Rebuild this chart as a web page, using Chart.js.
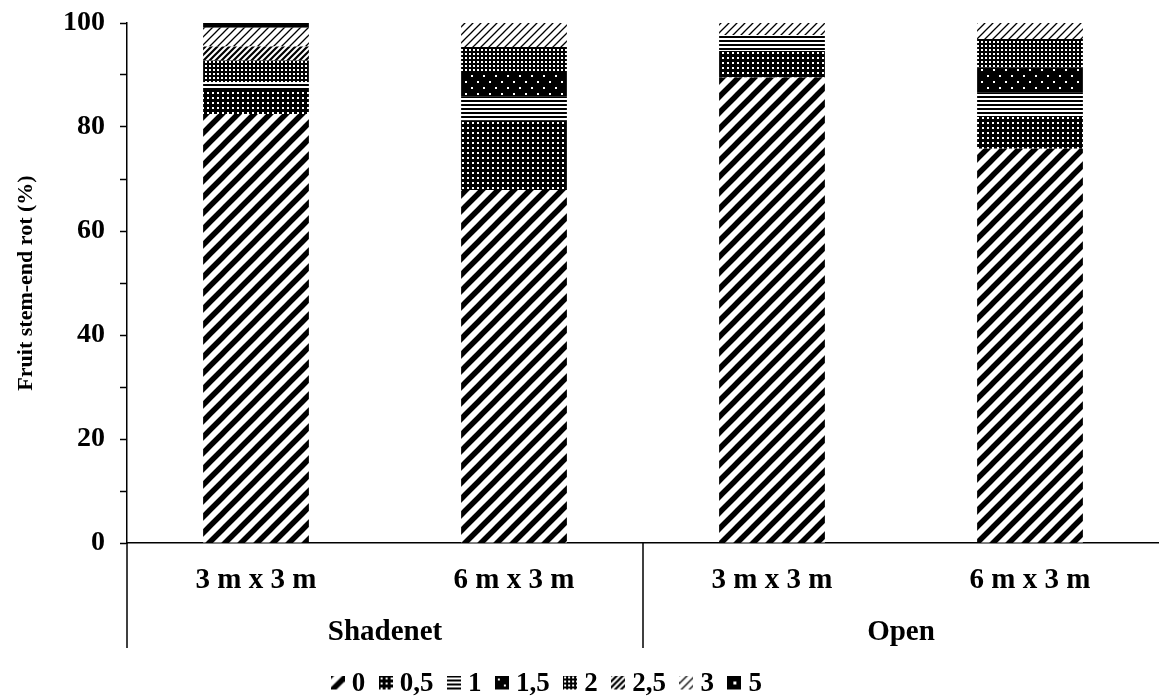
<!DOCTYPE html>
<html>
<head>
<meta charset="utf-8">
<script src="https://cdn.jsdelivr.net/npm/chart.js@4.4.1/dist/chart.umd.min.js"></script>
<style>
  html, body { margin: 0; padding: 0; background: #fff; }
</style>
</head>
<body>
<canvas id="myChart" width="1159" height="699"></canvas>
<script>
// categories and groups on the x axis
const categories = ["3 m x 3 m", "6 m x 3 m", "3 m x 3 m", "6 m x 3 m"];
const groups = ["Shadenet", "Open"];
const seriesLabels = ["0", "0,5", "1", "1,5", "2", "2,5", "3", "5"];

// share of fruit (%) in each rot class
const s0  = [82.5, 67.9, 89.5, 75.8];
const s05 = [4.6, 13.4, 5.1, 6.3];
const s1  = [1.5, 4.5, 3.1, 4.6];
const s15 = [0, 4.8, 0, 4.8];
const s2  = [4.2, 4.8, 0, 5.4];
const s25 = [2.7, 0, 0, 0];
const s3  = [3.6, 4.6, 2.3, 3.1];
const s5  = [0.9, 0, 0, 0];
const seriesValues = [s0, s05, s1, s15, s2, s25, s3, s5];

const yTicks = [0, 20, 40, 60, 80, 100];

const canvas = document.getElementById("myChart");
const ctx = canvas.getContext("2d");
const serif = "'Liberation Serif', 'Times New Roman', serif";
const labelSize = 29;

function makeTile(w, draw, h) {
  const c = document.createElement("canvas");
  c.width = w;
  c.height = h || w;
  draw(c.getContext("2d"), w);
  return c;
}

// "/" stripes on white
function diag(size, width) {
  return makeTile(size, (g, n) => {
    g.fillStyle = "#fff";
    g.fillRect(0, 0, n, n);
    g.strokeStyle = "#000";
    g.lineWidth = width;
    g.beginPath();
    g.moveTo(-n, n); g.lineTo(n, -n);
    g.moveTo(0, n); g.lineTo(n, 0);
    g.moveTo(0, 2 * n); g.lineTo(2 * n, 0);
    g.stroke();
  });
}

// white dots on black
function dots(size, dot, spots) {
  return makeTile(size, (g, n) => {
    g.fillStyle = "#000";
    g.fillRect(0, 0, n, n);
    g.fillStyle = "#fff";
    spots.forEach(p => g.fillRect(p[0], p[1], dot, dot));
  });
}

function hlines(size, thick) {
  return makeTile(size, (g, n) => {
    g.fillStyle = "#fff";
    g.fillRect(0, 0, n, n);
    g.fillStyle = "#000";
    g.fillRect(0, 0, n, thick);
  });
}

const tiles = [
  diag(16, 5.5),                 // 0
  dots(5, 2, [[2, 2]]),          // 0,5
  hlines(4, 2),                  // 1
  dots(12, 2, [[3, 3], [9, 9]]), // 1,5
  dots(4, 2, [[1, 1]]),          // 2
  diag(6, 2.2),                  // 2,5
  diag(8, 1.3),                  // 3
  dots(8, 0, [])                 // 5 (solid)
];
const patterns = tiles.map(t => ctx.createPattern(t, "repeat"));

// small legend swatches (drawn in the top part so they line up with the digits)
const icons = tiles.map((t, i) => makeTile(14, (g, n) => {
  g.fillStyle = g.createPattern(t, "repeat");
  g.fillRect(0, 0, n, n);
  if (i === tiles.length - 1) {
    g.fillStyle = "#fff";
    g.fillRect(6, 6, 3, 3);
  }
}, 18));

const datasets = seriesLabels.map((lab, i) => ({
  label: lab,
  data: seriesValues[i],
  backgroundColor: patterns[i],
  borderWidth: 0,
  categoryPercentage: 1.0,
  barPercentage: 0.41
}));

const groupPlugin = {
  id: "groupPlugin",
  afterLayout(chart) {
    // legend sits a little left of centre and low in the original
    const lg = chart.legend;
    lg.left -= 30;
    lg.right -= 30;
    lg.top += 9;
    lg.bottom += 9;
  },
  afterDraw(chart) {
    const { ctx, chartArea, scales: { x } } = chart;
    const bottom = chartArea.bottom + 105;
    const mid = (x.getPixelForTick(1) + x.getPixelForTick(2)) / 2;
    ctx.save();
    ctx.strokeStyle = "#000";
    ctx.lineWidth = 1.5;
    [chartArea.left, mid].forEach(px => {
      ctx.beginPath();
      ctx.moveTo(px, chartArea.bottom);
      ctx.lineTo(px, bottom);
      ctx.stroke();
    });
    ctx.fillStyle = "#000";
    ctx.font = "bold " + labelSize + "px " + serif;
    ctx.textAlign = "center";
    ctx.textBaseline = "middle";
    groups.forEach((g, i) => {
      const cx = (x.getPixelForTick(2 * i) + x.getPixelForTick(2 * i + 1)) / 2;
      ctx.fillText(g, cx, chartArea.bottom + 90);
    });
    ctx.restore();
  }
};

new Chart(ctx, {
  type: "bar",
  data: { labels: categories, datasets: datasets },
  plugins: [groupPlugin],
  options: {
    responsive: false,
    animation: false,
    layout: { padding: { top: 23, right: 0, left: 0, bottom: 0 } },
    plugins: {
      tooltip: { enabled: false },
      legend: {
        position: "bottom",
        labels: {
          color: "#000",
          usePointStyle: true,
          pointStyleWidth: 1,
          boxHeight: 14,
          padding: 20,
          font: { family: serif, size: 27, weight: "bold" },
          generateLabels: chart =>
            Chart.defaults.plugins.legend.labels.generateLabels(chart)
              .map((item, i) => ({ ...item, pointStyle: icons[i] }))
        }
      }
    },
    scales: {
      x: {
        stacked: true,
        grid: { display: false, drawTicks: false },
        border: { color: "#000", width: 1.5 },
        ticks: {
          color: "#000",
          padding: 20,
          maxRotation: 0,
          font: { family: serif, size: labelSize, weight: "bold" }
        },
        afterFit: s => { s.height = s.chart.height - 543 - s.chart.legend.height; }
      },
      y: {
        stacked: true,
        min: 0,
        max: 100,
        border: { color: "#000", width: 1.5 },
        grid: {
          drawOnChartArea: false,
          drawTicks: true,
          tickLength: 7,
          tickWidth: 1.5,
          tickColor: "#000"
        },
        ticks: {
          stepSize: 10,
          padding: 15,
          color: "#000",
          font: { family: serif, size: 28, weight: "bold" },
          callback: v => (yTicks.includes(v) ? v : "")
        },
        title: {
          display: true,
          text: "Fruit stem-end rot (%)",
          color: "#000",
          padding: { top: 13, bottom: 0 },
          font: { family: serif, size: 22, weight: "bold" }
        },
        afterFit: s => {
          s.width = 127;
          s.paddingTop = 0;
          s.paddingBottom = 0;
        }
      }
    }
  }
});
</script>
</body>
</html>
